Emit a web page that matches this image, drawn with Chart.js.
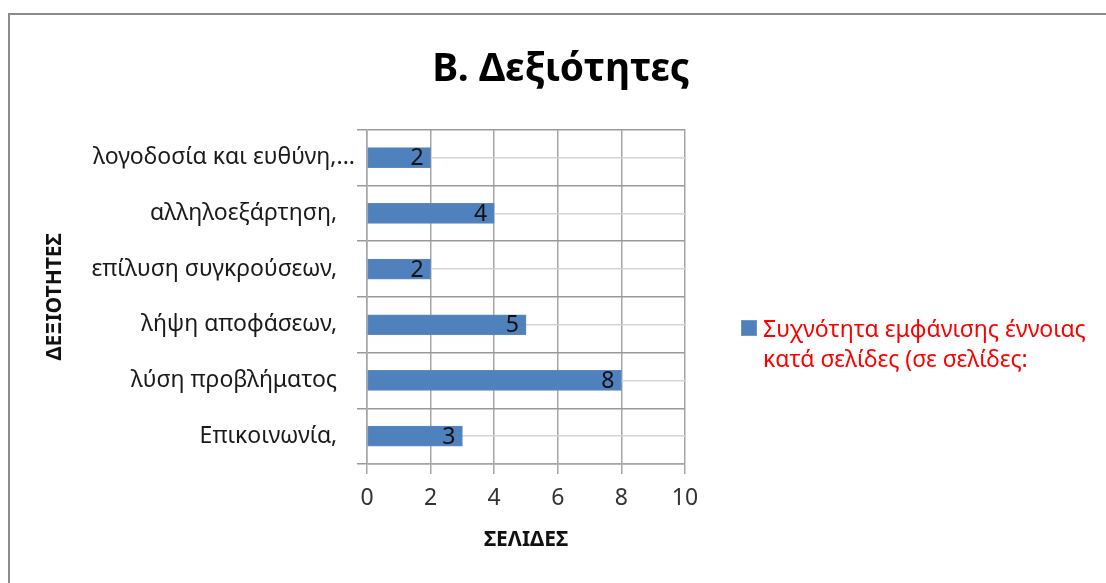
<!DOCTYPE html>
<html>
<head>
<meta charset="utf-8">
<script src="https://cdn.jsdelivr.net/npm/chart.js@4"></script>
<style>
    html, body { margin: 0; padding: 0; background: #fff; overflow: hidden; }
    #wrap { position: relative; width: 1106px; height: 583px; }
    #frame {
        position: absolute; left: 8px; top: 13px; width: 1200px; height: 700px;
        border: 2px solid #8c8c8c; box-sizing: border-box;
    }
    canvas { position: absolute; left: 0; top: 0; }
    #legend {
        position: absolute; left: 741px; top: 313px;
        font-family: 'Noto Sans', sans-serif; font-size: 23px; line-height: 30px;
        color: #ff0000;
    }
    #legend .box {
        position: absolute; left: 0; top: 7px; width: 16px; height: 16px;
        background: #4f81bd; border: 1px solid #6f97c9; box-sizing: border-box;
    }
    #legend .txt { margin-left: 22px; white-space: nowrap; }
</style>
</head>
<body>
<div id="wrap">
    <div id="frame"></div>
    <canvas id="chart" width="1106" height="583"></canvas>
    <div id="legend">
        <span class="box"></span>
        <div class="txt">Συχνότητα εμφάνισης έννοιας<br>κατά σελίδες (σε σελίδες:</div>
    </div>
</div>
<script>
// === データ ===
const categories = [
    'λογοδοσία και ευθύνη,...',
    'αλληλοεξάρτηση,   ',
    'επίλυση συγκρούσεων,   ',
    'λήψη αποφάσεων,   ',
    'λύση προβλήματος   ',
    'Επικοινωνία,   '
];
const pageCounts = [2, 4, 2, 5, 8, 3];
const xTicks = [0, 2, 4, 6, 8, 10];
const seriesName = 'Συχνότητα εμφάνισης έννοιας κατά σελίδες (σε σελίδες:';

const FONT = "'Noto Sans', sans-serif";

// バーの値ラベル（バー内側の右端）
const barLabels = {
    id: 'barLabels',
    afterDatasetsDraw(chart) {
        const ctx = chart.ctx;
        const meta = chart.getDatasetMeta(0);
        ctx.save();
        ctx.font = '23px ' + FONT;
        ctx.fillStyle = '#111';
        ctx.textAlign = 'right';
        ctx.textBaseline = 'middle';
        meta.data.forEach((bar, i) => {
            ctx.fillText(String(pageCounts[i]), bar.x - 7, bar.y + 1);
        });
        ctx.restore();
    }
};

const ctx = document.getElementById('chart').getContext('2d');
new Chart(ctx, {
    type: 'bar',
    data: {
        labels: categories,
        datasets: [{
            label: seriesName,
            data: pageCounts,
            backgroundColor: '#4f81bd',
            borderColor: '#5a8ac4',
            borderWidth: 1,
            borderSkipped: false,
            barThickness: 20,
            xAxisID: 'x',
            yAxisID: 'y'
        }]
    },
    options: {
        indexAxis: 'y',
        responsive: false,
        animation: false,
        layout: { padding: { left: 16, right: 0, top: 0, bottom: 0 } },
        plugins: {
            legend: { display: false },
            tooltip: { enabled: false },
            title: {
                display: true,
                text: 'Β. Δεξιότητες',
                color: '#000',
                font: { family: FONT, size: 39, weight: 'bold', lineHeight: 1.2 },
                padding: { top: 46, bottom: 37 }
            }
        },
        scales: {
            x: {
                position: 'bottom',
                min: 0,
                max: 10,
                afterBuildTicks(scale) {
                    scale.ticks = xTicks.map(v => ({ value: v }));
                },
                afterFit(scale) { scale.height = 119; },
                grid: { color: '#a6a6a6', lineWidth: 1.5, tickLength: 10 },
                border: { color: '#a6a6a6', width: 1.5 },
                ticks: {
                    color: '#333',
                    padding: 11,
                    font: { family: FONT, size: 23 }
                },
                title: {
                    display: true,
                    text: 'ΣΕΛΙΔΕΣ',
                    color: '#111',
                    font: { family: FONT, size: 21, weight: 'bold', lineHeight: 1.2 },
                    padding: { top: 0, bottom: 30 }
                }
            },
            y: {
                position: 'left',
                type: 'category',
                offset: true,
                afterFit(scale) { scale.width = 351; },
                grid: { color: '#9a9a9a', lineWidth: 1.5, offset: true, tickLength: 10 },
                border: { color: '#a6a6a6', width: 1.5 },
                ticks: {
                    color: '#1a1a1a',
                    padding: 2,
                    font: { family: FONT, size: 23 }
                },
                title: {
                    display: true,
                    text: 'ΔΕΞΙΟΤΗΤΕΣ',
                    color: '#111',
                    font: { family: FONT, size: 21, weight: 'bold', lineHeight: 1.2 },
                    padding: { top: 26, bottom: 0 }
                }
            },
            // 補助グリッド（カテゴリ中央の薄い線）＋右側の凡例スペース
            yMinor: {
                position: 'right',
                type: 'category',
                labels: categories,
                offset: true,
                afterFit(scale) { scale.width = 421; },
                grid: { color: '#d4d4d4', lineWidth: 1.5, offset: false, drawTicks: false },
                border: { display: false },
                ticks: { display: false }
            }
        }
    },
    plugins: [barLabels]
});
</script>
</body>
</html>
